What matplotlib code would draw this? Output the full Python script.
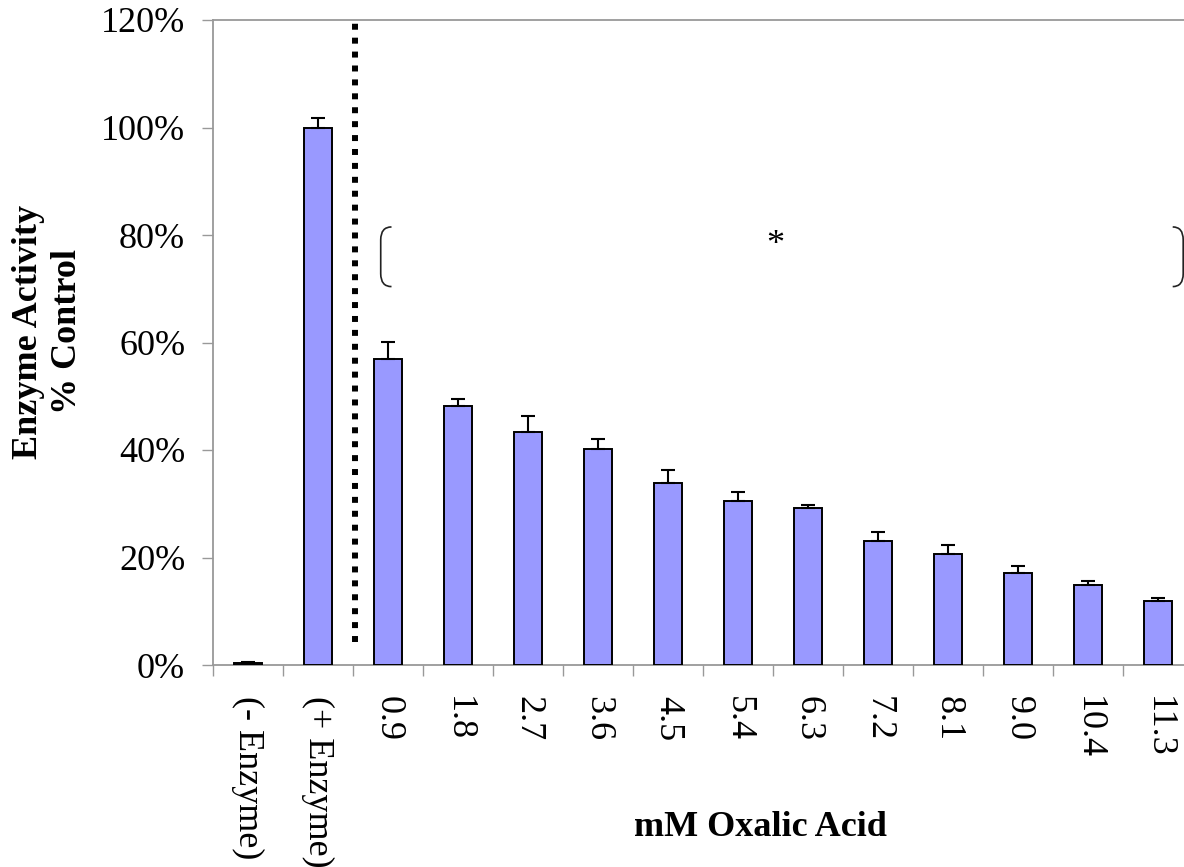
import matplotlib
matplotlib.use("Agg")
import matplotlib.pyplot as plt
from matplotlib.path import Path
from matplotlib.patches import PathPatch
import numpy as np

plt.rcParams['font.family'] = ['Liberation Serif', 'DejaVu Serif']

labels = ['(- Enzyme)', '(+ Enzyme)', '0.9', '1.8', '2.7', '3.6', '4.5',
          '5.4', '6.3', '7.2', '8.1', '9.0', '10.4', '11.3']
activity = [0.3, 100.0, 56.9, 48.2, 43.3, 40.1, 33.9,
            30.5, 29.2, 23.1, 20.6, 17.2, 14.8, 11.9]
err_up = [0.3, 1.8, 3.2, 1.2, 3.1, 1.9, 2.3,
          1.7, 0.6, 1.6, 1.7, 1.3, 0.9, 0.6]

W, H = 1184, 867
fig = plt.figure(figsize=(W / 100, H / 100), dpi=100)
ax = fig.add_axes([213 / W, (H - 665) / H, 980 / W, 645 / H])

x = np.arange(len(labels))
ax.bar(x, activity, width=0.41, color='#9999FF', edgecolor='black', linewidth=1.4, zorder=3)
ax.errorbar(x, activity, yerr=[np.zeros(len(err_up)), err_up], fmt='none',
            ecolor='black', elinewidth=1.5, capsize=4.7, capthick=1.5, zorder=4)

ax.set_xlim(-0.5, 13.5)
ax.set_ylim(0, 120)

grey = '#999999'
for s in ax.spines.values():
    s.set_color(grey)
    s.set_linewidth(1.3)

ax.set_yticks(np.arange(0, 121, 20))
ax.set_yticklabels([f'{v}%' for v in range(0, 121, 20)], fontsize=26)
ax.tick_params(axis='y', direction='out', length=8, width=1, color=grey, pad=12)

ax.set_xticks(x)
ax.set_xticklabels(labels, fontsize=26, rotation=270, va='top', ha='center')
ax.set_xticks(np.arange(-0.5, 13.6, 1), minor=True)
ax.tick_params(axis='x', which='major', length=0, pad=22)
ax.tick_params(axis='x', which='minor', direction='out', length=8, width=1, color=grey)

# dotted separator between controls and treatments
ax.plot([1.53, 1.53], [4.3, 120], color='black', linewidth=4.3,
        linestyle=(0, (1, 1.33)), dash_capstyle='butt', zorder=5, clip_on=False)

# brackets around treatment group
ytop, ybot, r = 81.5, 70.4, 2.4
for xo, xt in [(1.896, 2.05), (13.36, 13.21)]:
    verts = [(xt, ytop), (xo, ytop), (xo, ytop - r), (xo, ybot + r), (xo, ybot), (xt, ybot)]
    codes = [Path.MOVETO, Path.CURVE3, Path.CURVE3, Path.LINETO, Path.CURVE3, Path.CURVE3]
    ax.add_patch(PathPatch(Path(verts, codes), fill=False, edgecolor='#222222',
                           linewidth=1.2, clip_on=False))
ax.text(7.53, 78.1, '*', fontsize=26, ha='center', va='center')

fig.text(48 / W, 1 - 332 / H, 'Enzyme Activity\n% Control', rotation=90,
         fontsize=26, fontweight='bold', ha='center', va='center',
         multialignment='center', linespacing=1.2)
fig.text(760 / W, 1 - 827 / H, 'mM Oxalic Acid', fontsize=26,
         fontweight='bold', ha='center', va='center')

fig.savefig('out.png', dpi=100)
